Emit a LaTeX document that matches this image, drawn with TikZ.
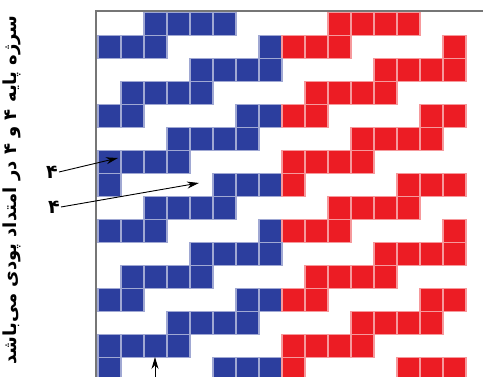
\documentclass[tikz,border=0pt]{standalone}
\usepackage{fontspec}
\usepackage{xcolor}
\usepackage{tikz}
\usetikzlibrary{arrows.meta,positioning,calc}
\TeXXeTstate=1
\newfontfamily\farsifont[Script=Arabic]{DejaVu Sans}
\definecolor{weftblue}{RGB}{44,62,158}
\definecolor{weftred}{RGB}{236,28,36}
\definecolor{framegray}{RGB}{118,118,118}

\begin{document}
\begin{tikzpicture}[x=1pt, y=-1pt, >={Stealth[length=12pt,width=7pt]},
    cell/.style={line width=1.3pt},
    pointer/.style={->, black, line width=0.9pt},
    numlbl/.style={font=\farsifont\bfseries\fontsize{19}{22}\selectfont, inner sep=1pt},
    titletext/.style={font=\farsifont\bfseries\fontsize{18}{22}\selectfont, inner sep=0pt, rotate=90}]
  \useasboundingbox (0,0) rectangle (483,377);

  % 4/4 twill cells, blue half and red half
  \begin{scope}
    \clip (0,0) rectangle (483,377);
    \foreach \r in {0,...,15} {
      \foreach \c in {0,...,15} {
        \pgfmathtruncatemacro{\k}{mod(\c+3*\r+62,8)}
        \ifnum\c<8 \def\cc{weftblue}\else\def\cc{weftred}\fi
        \ifnum\k<4
          \draw[cell, fill=\cc, draw=\cc!45!white] ({98+23*\c},{12.5+23*\r}) rectangle ++(23,23);
        \fi
      }
    }
  \end{scope}

  % Frame lines
  \draw[framegray, line width=2.5pt] (96,377) -- (96,11) -- (483,11);

  % Vertical caption
  \node[titletext] (caption) at (12,190) {\beginR سرژه پایه ۴ و ۴ در امتداد پودی می‌باشد\endR};

  % Labels and pointers
  \node[numlbl] (lbla) at (52,172) {۴};
  \node[numlbl] (lblb) at (54,207) {۴};
  \coordinate (tipa) at (118,158);
  \coordinate (tipb) at (199,183);
  \draw[pointer] (lbla.east) -- (tipa);
  \draw[pointer] (lblb.east) -- (tipb);

  \coordinate (tailc) at (155,380);
  \coordinate (tipc) at (155,357);
  \draw[pointer] (tailc) -- (tipc);
\end{tikzpicture}
\end{document}
